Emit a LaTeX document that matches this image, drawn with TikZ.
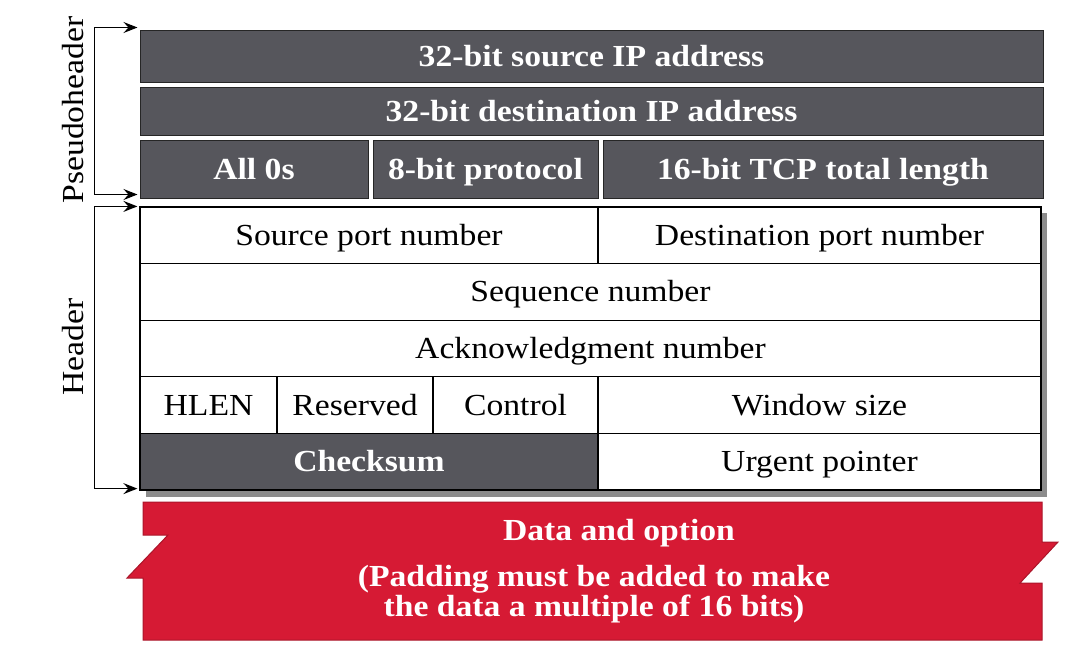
\documentclass[tikz,border=0pt]{standalone}
\usepackage{fontspec}
\setmainfont{Liberation Serif}[FakeStretch=1.1]
\usepackage{xcolor}
\usepackage{tikz}
\usetikzlibrary{shapes,arrows,positioning,calc,arrows.meta}
\definecolor{dkgray}{RGB}{86,86,92}
\definecolor{pktred}{RGB}{214,26,52}
\tikzset{
  pseudo/.style={draw=black!85,fill=dkgray,line width=0.5pt,inner sep=0pt,
    text height=10pt,text depth=0pt,
    text=white,font=\fontsize{15.3}{13}\selectfont\bfseries},
  field/.style={draw=black,fill=white,line width=0.6pt,inner sep=0pt,
    text height=10pt,text depth=0pt,
    minimum height=28.3pt,font=\fontsize{15.3}{13}\selectfont},
  bracket/.style={line width=0.6pt,{Stealth[length=7pt,width=5.5pt,inset=2.5pt]}-{Stealth[length=7pt,width=5.5pt,inset=2.5pt]}}
}

\begin{document}
\begin{tikzpicture}[x=0.5pt,y=-0.5pt]
    \useasboundingbox (0,0) rectangle (1070,661);
    % Pseudoheader
    \node[pseudo,minimum width=451.5pt,minimum height=26pt] (srcip) at (591.5,56) {32-bit source IP address};
    \node[pseudo,minimum width=451.5pt,minimum height=24pt] (dstip) at (591.5,111) {32-bit destination IP address};
    \node[pseudo,minimum width=114pt,minimum height=29pt] (zeros) at (254,169) {All 0s};
    \node[pseudo,minimum width=112.5pt,minimum height=29pt] (proto) at (485.5,169) {8-bit protocol};
    \node[pseudo,minimum width=220pt,minimum height=29pt] (tcplen) at (823,169) {16-bit TCP total length};
    % Header (with shadow)
    \fill[black!45] (146,213) rectangle (1047,497);
    \node[field,minimum width=229pt] (srcport) at (369,235.3) {Source port number};
    \node[field,minimum width=221.5pt] (dstport) at (819.5,235.3) {Destination port number};
    \node[field,minimum width=450.5pt] (seq) at (590.5,291.9) {Sequence number};
    \node[field,minimum width=450.5pt] (ack) at (590.5,348.5) {Acknowledgment number};
    \node[field,minimum width=68.5pt] (hlen) at (208.5,405.1) {HLEN};
    \node[field,minimum width=78pt] (resv) at (355,405.1) {Reserved};
    \node[field,minimum width=82.5pt] (ctrl) at (515.5,405.1) {Control};
    \node[field,minimum width=221.5pt] (win) at (819.5,405.1) {Window size};
    \node[field,fill=dkgray,text=white,font=\fontsize{15.3}{13}\selectfont\bfseries,minimum width=229pt] (chk) at (369,461.7) {Checksum};
    \node[field,minimum width=221.5pt] (urg) at (819.5,461.7) {Urgent pointer};
    % Data (torn edges)
    \fill[pktred,draw=pktred!80!black,line width=0.5pt] (143,502) -- (1042,502) -- (1042,542) -- (1058,542)
        -- (1020,583) -- (1042,583) -- (1042,640) -- (143,640) -- (143,578) -- (127,578)
        -- (168,535) -- (143,535) -- cycle;
    \node[text=white,font=\fontsize{15.3}{13}\selectfont\bfseries] (data) at (619,533) {Data and option};
    \node[text=white,align=center,font=\fontsize{15.3}{13}\selectfont\bfseries] (pad) at (594,594)
        {(Padding must be added to make\\the data a multiple of 16 bits)};
    % Brackets
    \draw[bracket,shorten <=1pt,shorten >=1pt] ([yshift=1pt]srcip.north west) -- ++(-45,0) |- ([yshift=2pt]zeros.south west);
    \draw[bracket,shorten <=1pt,shorten >=1pt] (srcport.north west) -- ++(-45,0) |- ([yshift=1pt]chk.south west);
    \node[rotate=90,font=\fontsize{15.3}{13}\selectfont] (phlabel) at (73,110) {Pseudoheader};
    \node[rotate=90,font=\fontsize{15.3}{13}\selectfont] (hdlabel) at (73,347) {Header};
\end{tikzpicture}
\end{document}
